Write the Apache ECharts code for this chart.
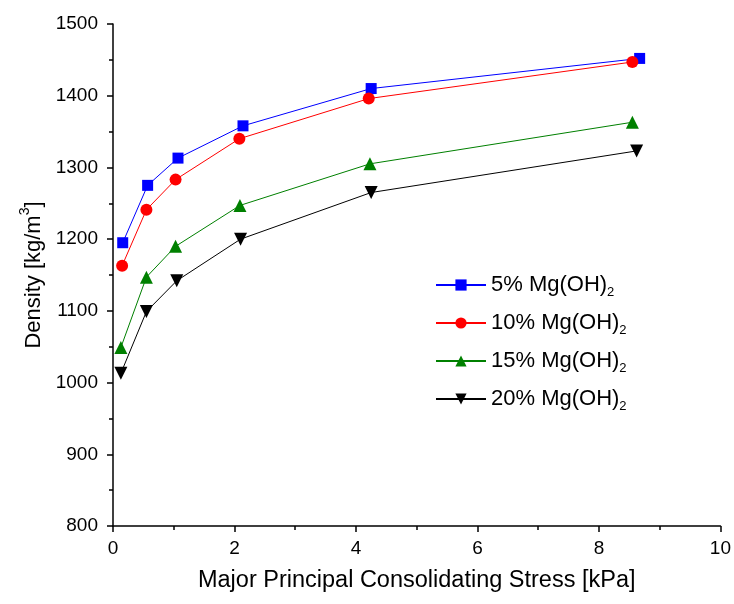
<!DOCTYPE html>
<html lang="en">
<head>
    <meta charset="UTF-8">
    <title>Density vs Consolidating Stress</title>
    <script src="https://cdn.jsdelivr.net/npm/echarts@6/dist/echarts.min.js"></script>
    <style>
        html, body { margin: 0; padding: 0; background: #fff; }
        #chart { width: 734px; height: 604px; }
    </style>
</head>
<body>
<div id="chart"></div>
<script type="text/javascript">
    // values
    var seriesNames = ['5% Mg(OH)2', '10% Mg(OH)2', '15% Mg(OH)2', '20% Mg(OH)2'];
    var stress5 = [0.16, 0.57, 1.07, 2.14, 4.25, 8.67];
    var dens5 = [1195, 1275, 1313, 1358, 1410, 1452];
    var stress10 = [0.15, 0.55, 1.03, 2.08, 4.21, 8.55];
    var dens10 = [1163, 1241, 1283, 1340, 1396, 1447];
    var stress15 = [0.13, 0.55, 1.03, 2.09, 4.23, 8.55];
    var dens15 = [1049, 1147, 1190, 1247, 1305, 1363];
    var stress20 = [0.13, 0.55, 1.05, 2.10, 4.25, 8.62];
    var dens20 = [1013, 1099, 1142, 1200, 1265, 1323];

    var font = '"Liberation Sans", Arial, sans-serif';

    function pairs(xs, ys) {
        var out = [];
        for (var i = 0; i < xs.length; i++) {
            out.push([xs[i], ys[i]]);
        }
        return out;
    }

    function makeSeries(name, xs, ys, color, symbol, size, rotate) {
        return {
            name: name,
            type: 'line',
            data: pairs(xs, ys),
            symbol: symbol,
            symbolSize: size,
            symbolRotate: rotate,
            lineStyle: { color: color, width: 1 },
            itemStyle: { color: color },
            emphasis: { disabled: true },
            z: 3
        };
    }

    var myChart = echarts.init(document.getElementById('chart'));

    var option = {
        animation: false,
        backgroundColor: '#fff',
        grid: { left: 113, right: 13, top: 24, bottom: 78, containLabel: false },
        legend: {
            orient: 'vertical',
            left: 435,
            top: 274,
            padding: 0,
            itemWidth: 50,
            itemHeight: 14,
            itemGap: 13,
            data: seriesNames,
            formatter: function (name) {
                return '{a|' + name.slice(0, -1) + '}{s|2}';
            },
            textStyle: {
                color: '#000',
                fontFamily: font,
                rich: {
                    a: { fontSize: 22, lineHeight: 28, fontFamily: font, color: '#000' },
                    s: { fontSize: 13, lineHeight: 13, verticalAlign: 'bottom', fontFamily: font, color: '#000' }
                }
            }
        },
        xAxis: {
            type: 'value',
            min: 0,
            max: 10,
            interval: 2,
            name: 'Major Principal Consolidating Stress [kPa]',
            nameLocation: 'middle',
            nameGap: 43,
            nameTextStyle: { fontSize: 23.5, fontFamily: font, color: '#000' },
            axisLine: { show: true, onZero: false, lineStyle: { color: '#000', width: 1.5 } },
            axisTick: { show: true, inside: false, length: 6, lineStyle: { color: '#000', width: 1.5 } },
            minorTick: { show: true, splitNumber: 2, length: 4, lineStyle: { color: '#000', width: 1.5 } },
            axisLabel: { fontSize: 19, fontFamily: font, color: '#000', margin: 13 },
            splitLine: { show: false }
        },
        yAxis: {
            type: 'value',
            min: 800,
            max: 1500,
            interval: 100,
            name: '{a|Density [kg/m}{s|3}{a|]}',
            nameLocation: 'middle',
            nameGap: 60,
            nameTextStyle: {
                fontFamily: font,
                color: '#000',
                rich: {
                    a: { fontSize: 22, lineHeight: 32, fontFamily: font, color: '#000' },
                    s: { fontSize: 14, lineHeight: 14, verticalAlign: 'top', fontFamily: font, color: '#000' }
                }
            },
            axisLine: { show: true, onZero: false, lineStyle: { color: '#000', width: 1.5 } },
            axisTick: { show: true, inside: false, length: 6, lineStyle: { color: '#000', width: 1.5 } },
            minorTick: { show: true, splitNumber: 2, length: 4, lineStyle: { color: '#000', width: 1.5 } },
            axisLabel: {
                fontSize: 19, fontFamily: font, color: '#000', margin: 15,
                formatter: function (v) { return String(v); }
            },
            splitLine: { show: false }
        },
        series: [
            makeSeries(seriesNames[0], stress5, dens5, '#0000ff', 'rect', 11, 0),
            makeSeries(seriesNames[1], stress10, dens10, '#ff0000', 'circle', 12, 0),
            makeSeries(seriesNames[2], stress15, dens15, '#008000', 'triangle', 13, 0),
            makeSeries(seriesNames[3], stress20, dens20, '#000000', 'triangle', 13, 180)
        ]
    };

    myChart.setOption(option);
</script>
</body>
</html>
